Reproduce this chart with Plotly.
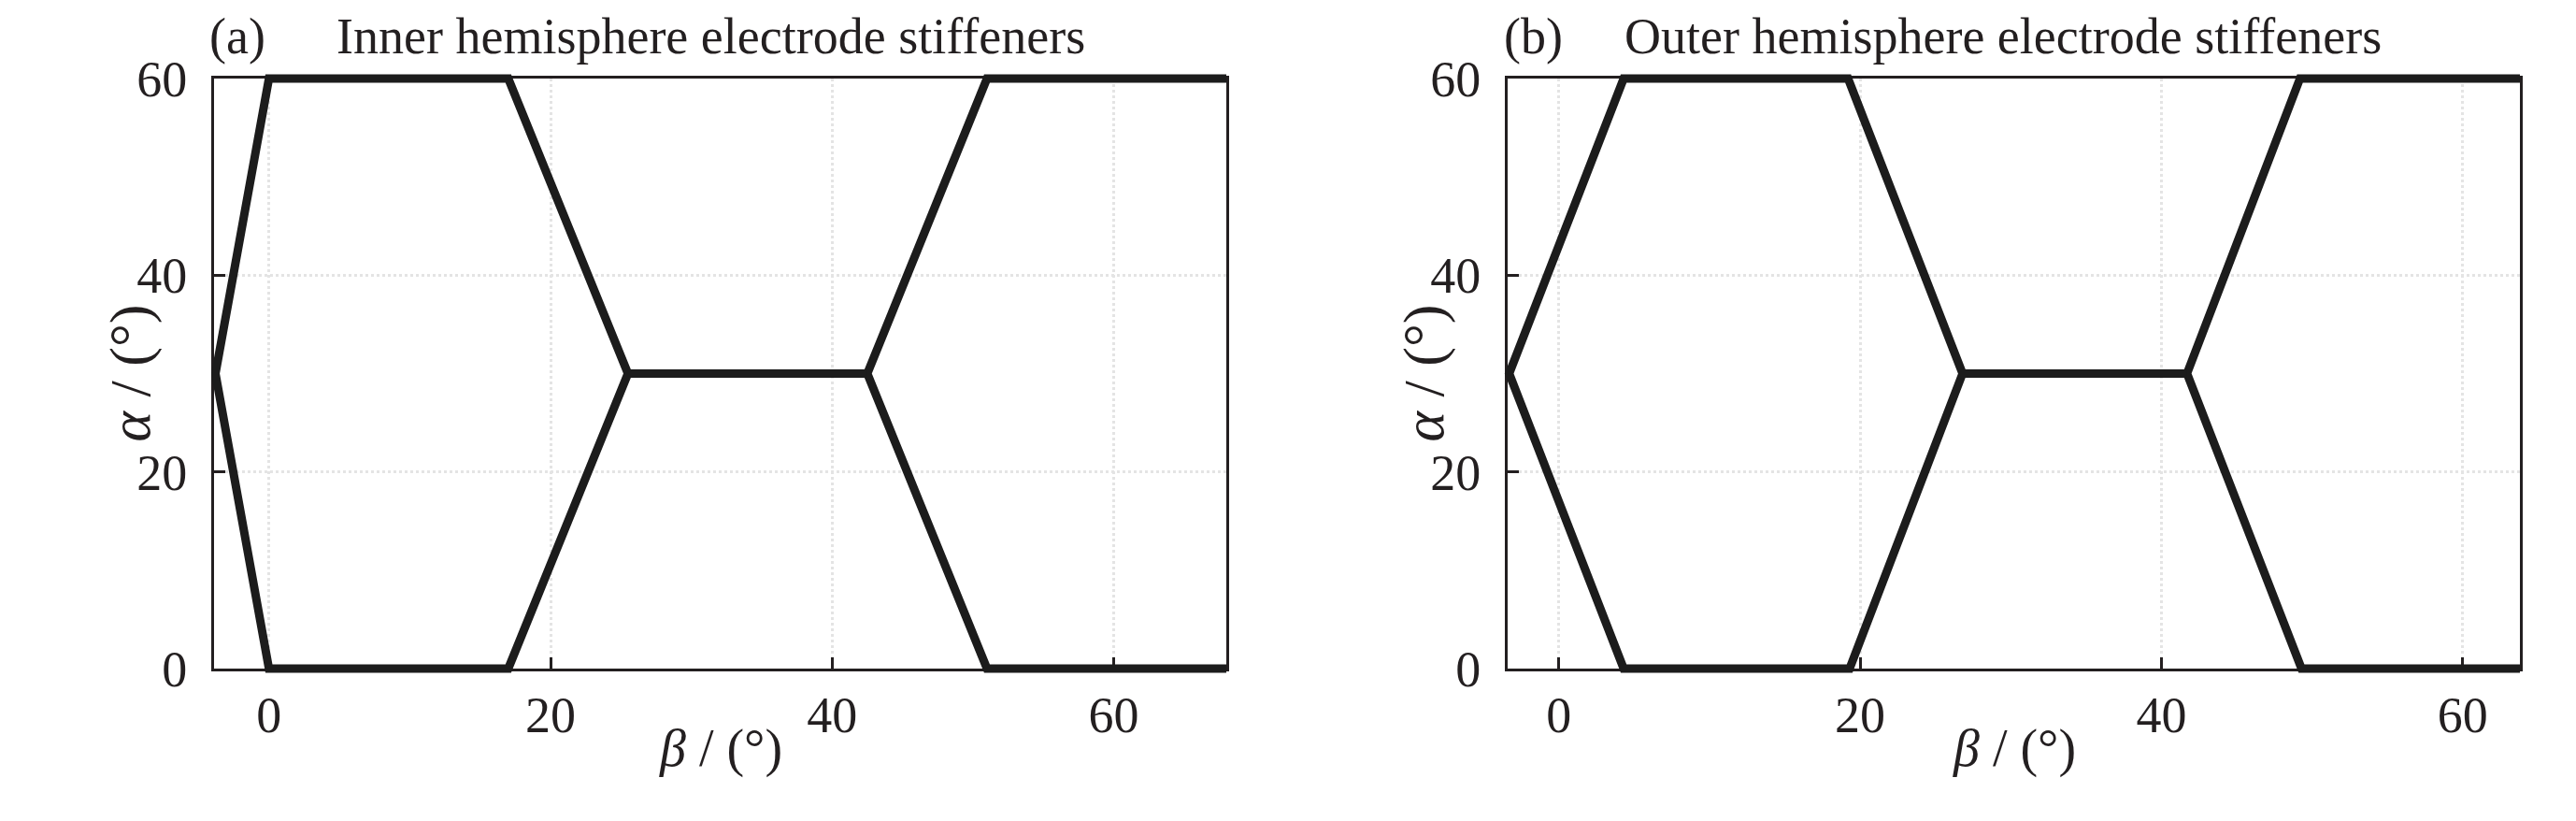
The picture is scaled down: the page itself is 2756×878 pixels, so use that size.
import plotly.graph_objects as go

# ---------------- data ----------------
x_ticks = [0, 20, 40, 60]
y_ticks = [0, 20, 40, 60]

# (a) Inner hemisphere electrode stiffeners  (None = pen up)
beta_a = [68.0, 51.0, 42.5, 51.0, 68.0, None,
          42.5, 25.5, 17.0, 0.0, -3.8, 0.0, 17.0, 25.5]
alpha_a = [0, 0, 30, 60, 60, None,
           30, 30, 60, 60, 30, 0, 0, 30]

# (b) Outer hemisphere electrode stiffeners
beta_b = [63.8, 49.3, 41.7, 49.2, 63.8, None,
          41.7, 26.8, 19.2, 4.3, -3.3, 4.3, 19.3, 26.8]
alpha_b = [0, 0, 30, 60, 60, None,
           30, 30, 60, 60, 30, 0, 0, 30]

x_range_a = [-3.9, 68.0]
x_range_b = [-3.4, 63.8]
y_range = [0, 60]

titles = ["(a)", "(b)"]
subtitles = ["Inner hemisphere electrode stiffeners",
             "Outer hemisphere electrode stiffeners"]

# ---------------- layout geometry (page pixels) ----------------
PAGE_W, PAGE_H = 2756, 878
BODY = 8                      # default page margin around the plot div
FW, FH = PAGE_W - 2 * BODY, PAGE_H - 2 * BODY
TOP, BOTTOM = 84, 715
panels = [
    dict(left=229, right=1312, xr=x_range_a, bx=beta_a, ay=alpha_a,
         tag_x=223, sub_x=359),
    dict(left=1613, right=2696, xr=x_range_b, bx=beta_b, ay=alpha_b,
         tag_x=1608, sub_x=1737),
]
EXT = 10  # px extension of the data axes so thick lines on the frame are not clipped

INK = "#231f20"
LINE = "#1c1c1c"
FONT = "Liberation Serif"


def fx(px):
    return (px - BODY) / FW


def fy(py):
    return 1 - (py - BODY) / FH


fig = go.Figure()
layout = dict(
    template="none",
    width=FW, height=FH, margin=dict(l=0, r=0, t=0, b=0, pad=0),
    paper_bgcolor="white", plot_bgcolor="rgba(0,0,0,0)",
    showlegend=False, annotations=[],
)

for i, p in enumerate(panels):
    fa = 2 * i + 1   # frame axes index
    da = 2 * i + 2   # data axes index
    fxn = "x" if fa == 1 else f"x{fa}"
    fyn = "y" if fa == 1 else f"y{fa}"
    dxn, dyn = f"x{da}", f"y{da}"

    common = dict(
        automargin=False,
        showline=True, linewidth=3, linecolor=INK, mirror=True,
        ticks="inside", ticklen=12, tickwidth=2.5, tickcolor=INK,
        showgrid=True, gridcolor="#e4e4e4", gridwidth=3, griddash="dot",
        zeroline=False, fixedrange=True,
        tickfont=dict(family=FONT, size=54, color=INK),
    )
    layout["xaxis" if fa == 1 else f"xaxis{fa}"] = dict(
        common, domain=[fx(p["left"]), fx(p["right"])], range=p["xr"],
        tickvals=x_ticks, anchor=fyn, ticklabelstandoff=0)
    layout["yaxis" if fa == 1 else f"yaxis{fa}"] = dict(
        common, domain=[fy(BOTTOM), fy(TOP)], range=y_range,
        tickvals=y_ticks, anchor=fxn, ticklabelstandoff=15)

    # data axes: same scale, slightly larger area
    sx = (p["right"] - p["left"]) / (p["xr"][1] - p["xr"][0])
    sy = (BOTTOM - TOP) / (y_range[1] - y_range[0])
    layout[f"xaxis{da}"] = dict(
        visible=False, fixedrange=True, anchor=dyn, automargin=False,
        domain=[fx(p["left"] - EXT), fx(p["right"] + EXT)],
        range=[p["xr"][0] - EXT / sx, p["xr"][1] + EXT / sx])
    layout[f"yaxis{da}"] = dict(
        visible=False, fixedrange=True, anchor=dxn, automargin=False,
        domain=[fy(BOTTOM + EXT), fy(TOP - EXT)],
        range=[y_range[0] - EXT / sy, y_range[1] + EXT / sy])

    fig.add_trace(go.Scatter(x=[], y=[], xaxis=fxn, yaxis=fyn,
                             mode="lines", hoverinfo="skip"))
    fig.add_trace(go.Scatter(x=p["bx"], y=p["ay"], xaxis=dxn, yaxis=dyn,
                             mode="lines", line=dict(color=LINE, width=9),
                             connectgaps=False, hoverinfo="skip"))

    # panel titles (box top flush with the top of the figure)
    layout["annotations"].append(dict(
        text=titles[i], x=fx(p["tag_x"]), y=1, xref="paper", yref="paper",
        xanchor="left", yanchor="top", showarrow=False, borderpad=0,
        font=dict(family=FONT, size=54, color=INK)))
    layout["annotations"].append(dict(
        text=subtitles[i], x=fx(p["sub_x"]), y=1, xref="paper", yref="paper",
        xanchor="left", yanchor="top", showarrow=False, borderpad=0,
        font=dict(family=FONT, size=54, color=INK)))
    # axis titles
    layout["annotations"].append(dict(
        text="<i>α</i> / (°)", x=fx(p["left"] - 90), y=fy((TOP + BOTTOM) / 2),
        xref="paper", yref="paper", xanchor="center", yanchor="middle",
        textangle=-90, showarrow=False,
        font=dict(family=FONT, size=62, color=INK)))
    layout["annotations"].append(dict(
        text="<i>β</i> / (°)", x=fx((p["left"] + p["right"]) / 2), y=fy(800),
        xref="paper", yref="paper", xanchor="center", yanchor="middle",
        showarrow=False, font=dict(family=FONT, size=56, color=INK)))

fig.update_layout(**layout)
fig.write_html("out.html")
